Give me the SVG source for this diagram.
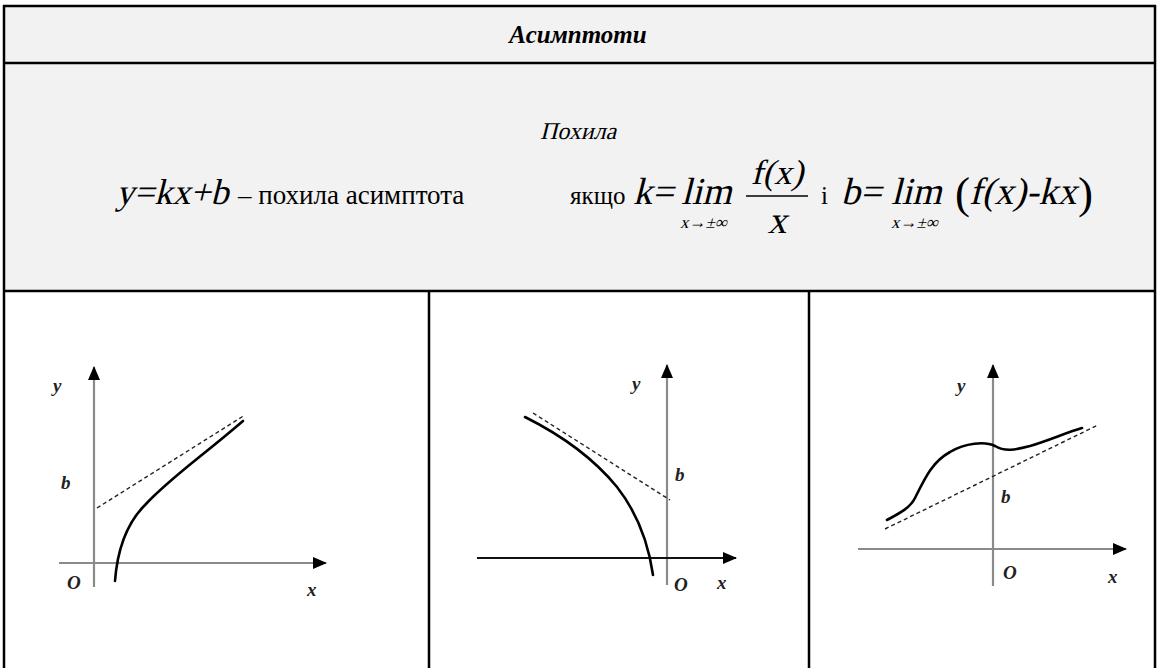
<svg xmlns="http://www.w3.org/2000/svg" width="1157" height="668" viewBox="0 0 1157 668">
<defs>
<marker id="arr" markerUnits="userSpaceOnUse" markerWidth="14" markerHeight="12" refX="13" refY="6" orient="auto">
<path d="M0,0 L14,6 L0,12 Z" fill="#000"/>
</marker>
<style>
.grid{stroke:#000;stroke-width:2.5;fill:none}
.axis{stroke:#8a8a8a;stroke-width:2.2;fill:none}
.axisd{stroke:#111;stroke-width:2;fill:none}
.curve{stroke:#000;stroke-width:2.6;fill:none;stroke-linecap:round}
.dash{stroke:#222;stroke-width:1.4;fill:none;stroke-dasharray:4 3}
.lbl{font-family:"Liberation Serif",serif;font-style:italic;font-weight:bold;font-size:19px;fill:#222}
.bi{font-family:"Liberation Serif",serif;font-style:italic;font-weight:bold;fill:#000}
.m{font-family:"Liberation Serif",serif;fill:#000}
.r{font-family:"Liberation Serif",serif;fill:#000}
</style>
</defs>
<rect x="0" y="0" width="1157" height="668" fill="#fff"/>
<rect x="3" y="6" width="1152" height="285" fill="#f2f2f2"/>
<g id="table" class="grid">
<line x1="3" y1="6" x2="1156" y2="6"/>
<line x1="3" y1="63" x2="1156" y2="63"/>
<line x1="3" y1="291" x2="1156" y2="291"/>
<line x1="4" y1="5" x2="4" y2="668"/>
<line x1="1155" y1="5" x2="1155" y2="668"/>
<line x1="429" y1="291" x2="429" y2="668"/>
<line x1="809" y1="291" x2="809" y2="668"/>
</g>
<g id="title">
<text x="578" y="43" text-anchor="middle" class="bi" font-size="25">Асимптоти</text>
</g>
<g id="formula">
<text transform="translate(578,139) skewX(-14)" text-anchor="middle" class="m" font-size="24">Похила</text>
<text transform="translate(116,204) skewX(-14)" class="m" font-size="36">y=kx+b</text>
<text x="238" y="204" class="r" font-size="27">– похила асимптота</text>
<text x="570" y="204" class="r" font-size="25">якщо</text>
<text transform="translate(633,204) skewX(-14)" class="m" font-size="38">k=</text>
<text transform="translate(681,204) skewX(-14)" class="m" font-size="38">lim</text>
<text transform="translate(680,228) skewX(-14)" class="m" font-size="17">x→±∞</text>
<text transform="translate(777,184) skewX(-14)" class="m" font-size="35" text-anchor="middle">f(x)</text>
<line x1="746" y1="196" x2="808" y2="196" stroke="#000" stroke-width="1.4"/>
<text transform="translate(777,233) skewX(-14)" class="m" font-size="38" text-anchor="middle">x</text>
<text x="821" y="204" class="r" font-size="25">і</text>
<text transform="translate(841,204) skewX(-14)" class="m" font-size="38">b=</text>
<text transform="translate(891,204) skewX(-14)" class="m" font-size="38">lim</text>
<text transform="translate(891,228) skewX(-14)" class="m" font-size="17">x→±∞</text>
<text x="955" y="208" class="r" font-size="45">(</text>
<text transform="translate(969,204) skewX(-14)" class="m" font-size="38">f(x)-kx</text>
<text x="1078" y="208" class="r" font-size="45">)</text>
</g>
<g id="graph1">
<line x1="94" y1="587" x2="94" y2="367" class="axis" marker-end="url(#arr)"/>
<line x1="59" y1="563" x2="326" y2="563" class="axis" marker-end="url(#arr)"/>
<line x1="97" y1="508" x2="245" y2="415" class="dash"/>
<path d="M115,581 C117,555 125,525 145,505 C170,478 200,458 243,421" class="curve"/>
<text x="53" y="392" class="lbl">y</text>
<text x="61" y="489" class="lbl">b</text>
<text x="67" y="589" class="lbl">O</text>
<text x="307" y="596" class="lbl">x</text>
</g>
<g id="graph2">
<line x1="667" y1="585" x2="667" y2="365" class="axis" marker-end="url(#arr)"/>
<line x1="477" y1="558" x2="736" y2="558" class="axisd" marker-end="url(#arr)"/>
<line x1="533" y1="413" x2="670" y2="500" class="dash"/>
<path d="M525,417 C565,437 595,460 617,487 C635,510 648,540 653,575" class="curve"/>
<text x="632" y="390" class="lbl">y</text>
<text x="675" y="481" class="lbl">b</text>
<text x="674" y="591" class="lbl">O</text>
<text x="717" y="589" class="lbl">x</text>
</g>
<g id="graph3">
<line x1="993" y1="586" x2="993" y2="365" class="axis" marker-end="url(#arr)"/>
<line x1="858" y1="549" x2="1126" y2="549" class="axis" marker-end="url(#arr)"/>
<line x1="885" y1="529" x2="1098" y2="425" class="dash"/>
<path d="M887,520 C900,513 910,508 915,498 C925,478 932,462 950,452 C965,443 985,441 995,446 C1005,452 1015,450 1030,446 C1050,440 1065,433 1082,428" class="curve"/>
<text x="957" y="392" class="lbl">y</text>
<text x="1001" y="503" class="lbl">b</text>
<text x="1003" y="579" class="lbl">O</text>
<text x="1108" y="583" class="lbl">x</text>
</g>
</svg>
